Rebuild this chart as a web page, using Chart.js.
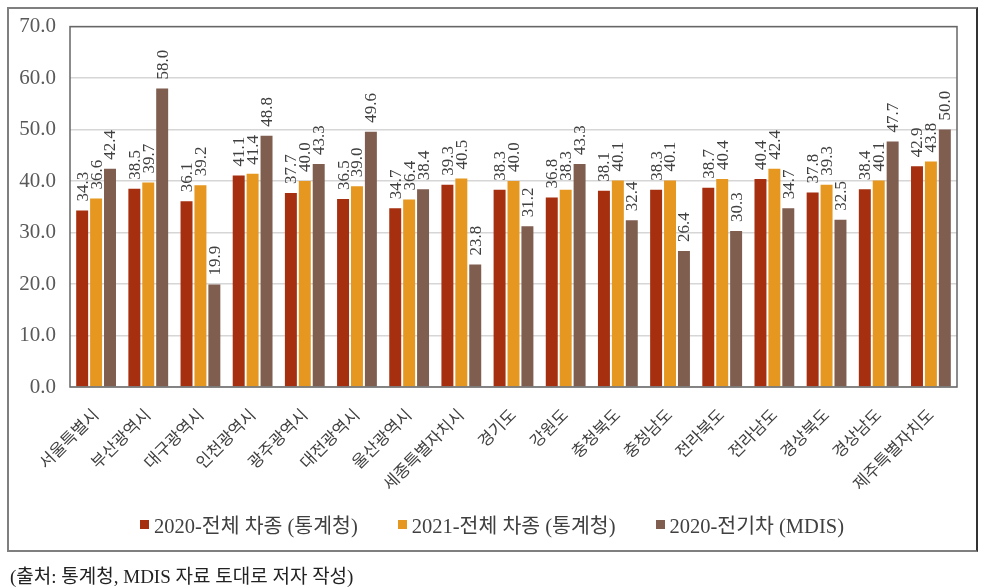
<!DOCTYPE html>
<html lang="ko">
<head>
<meta charset="utf-8">
<script src="https://cdn.jsdelivr.net/npm/chart.js@4"></script>
<style>
    html, body { margin: 0; padding: 0; background: #fff; }
    #wrap { position: relative; width: 990px; height: 588px; overflow: hidden; }
    #frame { position: absolute; left: 7px; top: 7px; width: 967px; height: 541px; border: 2px solid #7f7f7f; border-right-color: #333; }
    #chart { position: absolute; left: 0; top: 0; }
    .xlabel { position: absolute; white-space: nowrap; line-height: 1; transform-origin: 100% 50%; transform: rotate(-45deg);
        font-family: "Noto Sans CJK KR", sans-serif; font-size: 16.5px; color: #404040; }
    #legend { position: absolute; left: 0; top: 509px; width: 984px; display: flex; justify-content: center; gap: 40px;
        font-family: "Liberation Serif", "Noto Sans CJK KR", serif; font-size: 20.5px; color: #404040; }
    #legend span.item { display: flex; align-items: center; white-space: pre; }
    #legend span.box { display: inline-block; width: 9px; height: 9px; margin-right: 5px; }
    #source { position: absolute; left: 10px; top: 561px; font-family: "Liberation Serif", "Noto Sans CJK KR", serif;
        font-size: 19px; color: #222; }
</style>
</head>
<body>
<div id="wrap">
    <div id="frame"></div>
    <canvas id="chart" width="990" height="588"></canvas>
    <div id="legend"></div>
    <div id="source">(출처: 통계청, MDIS 자료 토대로 저자 작성)</div>
</div>
<script>
// 지역별 값
const regions = ['서울특별시', '부산광역시', '대구광역시', '인천광역시', '광주광역시', '대전광역시', '울산광역시', '세종특별자치시',
    '경기도', '강원도', '충청북도', '충청남도', '전라북도', '전라남도', '경상북도', '경상남도', '제주특별자치도'];
const total2020 = [34.3, 38.5, 36.1, 41.1, 37.7, 36.5, 34.7, 39.3, 38.3, 36.8, 38.1, 38.3, 38.7, 40.4, 37.8, 38.4, 42.9];
const total2021 = [36.6, 39.7, 39.2, 41.4, 40.0, 39.0, 36.4, 40.5, 40.0, 38.3, 40.1, 40.1, 40.4, 42.4, 39.3, 40.1, 43.8];
const ev2020 = [42.4, 58.0, 19.9, 48.8, 43.3, 49.6, 38.4, 23.8, 31.2, 43.3, 32.4, 26.4, 30.3, 34.7, 32.5, 47.7, 50.0];
const seriesNames = ['2020-전체 차종 (통계청)', '2021-전체 차종 (통계청)', '2020-전기차 (MDIS)'];
const seriesColors = ['#a62f10', '#e5971f', '#7f5d4f'];
const yTicks = [0, 10, 20, 30, 40, 50, 60, 70];

const plotFrame = {
    id: 'plotFrame',
    afterDraw(chart) {
        const { ctx, chartArea } = chart;
        ctx.save();
        ctx.strokeStyle = '#666';
        ctx.lineWidth = 1.5;
        ctx.strokeRect(chartArea.left, chartArea.top, chartArea.right - chartArea.left, chartArea.bottom - chartArea.top);
        ctx.restore();
    }
};

const valueLabels = {
    id: 'valueLabels',
    afterDatasetsDraw(chart) {
        const ctx = chart.ctx;
        ctx.save();
        ctx.font = '17px "Liberation Serif", serif';
        ctx.fillStyle = '#404040';
        ctx.textAlign = 'left';
        ctx.textBaseline = 'middle';
        chart.data.datasets.forEach((ds, i) => {
            chart.getDatasetMeta(i).data.forEach((bar, j) => {
                ctx.save();
                ctx.translate(bar.x + 1, bar.y - 9);
                ctx.rotate(-Math.PI / 2);
                ctx.fillText(ds.data[j].toFixed(1), 0, 0);
                ctx.restore();
            });
        });
        ctx.restore();
    }
};

function buildLegend() {
    const el = document.getElementById('legend');
    seriesNames.forEach((name, i) => {
        const item = document.createElement('span');
        item.className = 'item';
        item.innerHTML = '<span class="box" style="background:' + seriesColors[i] + '"></span>' + name;
        el.appendChild(item);
    });
}

// 캔버스에서 한글 회전 텍스트가 제대로 안 그려져서 HTML로 배치
function placeCategoryLabels(chart) {
    const wrap = document.getElementById('wrap');
    const xScale = chart.scales.x;
    const midY = chart.chartArea.bottom + 24;
    regions.forEach((name, i) => {
        const x = xScale.getPixelForValue(i);
        const el = document.createElement('div');
        el.className = 'xlabel';
        el.textContent = name;
        el.style.right = (990 - (x - 1)) + 'px';
        el.style.top = (midY - 8.25) + 'px';
        wrap.appendChild(el);
    });
}

function renderChart() {
    const ctx = document.getElementById('chart').getContext('2d');
    return new Chart(ctx, {
        type: 'bar',
        data: {
            labels: regions,
            datasets: [total2020, total2021, ev2020].map((values, i) => ({
                label: seriesNames[i],
                data: values,
                backgroundColor: seriesColors[i],
                categoryPercentage: 0.8,
                barPercentage: 0.86
            }))
        },
        options: {
            responsive: false,
            animation: false,
            layout: { padding: { left: 0, top: 26, right: 33, bottom: 141 } },
            plugins: {
                legend: { display: false },
                tooltip: { enabled: false }
            },
            scales: {
                x: {
                    afterFit(scale) { scale.height = 60; },
                    grid: { display: false },
                    border: { display: false },
                    ticks: { display: false }
                },
                y: {
                    min: yTicks[0],
                    max: yTicks[yTicks.length - 1],
                    afterFit(scale) { scale.width = 70; },
                    afterBuildTicks(scale) { scale.ticks = yTicks.map(v => ({ value: v })); },
                    grid: { color: '#d6d6d6', lineWidth: 1.5, drawTicks: false },
                    border: { display: false },
                    ticks: {
                        padding: 14,
                        color: '#595959',
                        font: { family: '"Liberation Serif", serif', size: 21 },
                        callback: v => v.toFixed(1)
                    }
                }
            }
        },
        plugins: [plotFrame, valueLabels]
    });
}

buildLegend();
const chart = renderChart();
placeCategoryLabels(chart);
</script>
</body>
</html>
